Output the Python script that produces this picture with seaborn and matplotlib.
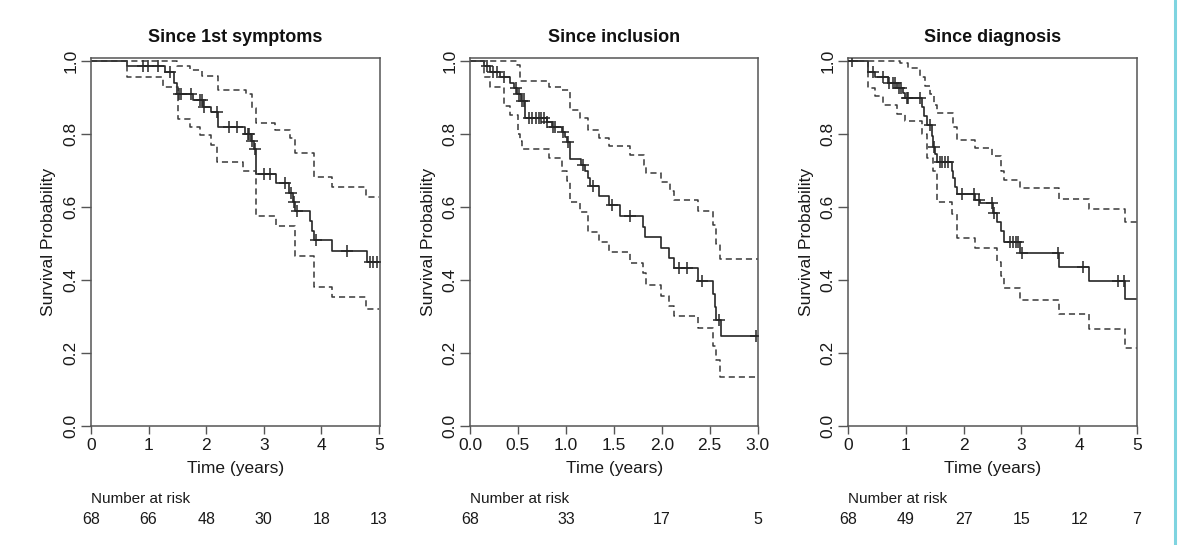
import numpy as np
import matplotlib
matplotlib.use("Agg")
import matplotlib.pyplot as plt
from matplotlib.lines import Line2D
from matplotlib.transforms import blended_transform_factory
import seaborn as sns

# ---- Kaplan-Meier estimates (step times and survival after each step) ----
titles = ["Since 1st symptoms", "Since inclusion", "Since diagnosis"]
x_max = [5, 3, 5]
x_ticks = [[0, 1, 2, 3, 4, 5],
           [0.0, 0.5, 1.0, 1.5, 2.0, 2.5, 3.0],
           [0, 1, 2, 3, 4, 5]]
x_ticklabels = [["0", "1", "2", "3", "4", "5"],
                ["0.0", "0.5", "1.0", "1.5", "2.0", "2.5", "3.0"],
                ["0", "1", "2", "3", "4", "5"]]
y_ticks = [0.0, 0.2, 0.4, 0.6, 0.8, 1.0]
y_ticklabels = ["0.0", "0.2", "0.4", "0.6", "0.8", "1.0"]

# Since 1st symptoms
symp_t = [0, 0.62, 1.28, 1.44, 1.49, 1.77, 1.95, 2.09, 2.21, 2.67, 2.77, 2.83, 2.86,
          3.22, 3.44, 3.51, 3.54, 3.80, 3.84, 3.88, 4.19, 4.80]
symp_s = [1.0, 0.985, 0.970, 0.940, 0.910, 0.893, 0.875, 0.860, 0.820, 0.800, 0.780,
          0.760, 0.690, 0.667, 0.639, 0.615, 0.589, 0.562, 0.535, 0.510, 0.479, 0.450]
symp_up_t = [0, 1.49, 1.72, 1.92, 2.21, 2.69, 2.80, 2.86, 3.20, 3.45, 3.55, 3.88, 4.19, 4.78]
symp_up_s = [1.0, 0.985, 0.975, 0.960, 0.920, 0.910, 0.870, 0.829, 0.811, 0.790, 0.749,
             0.681, 0.656, 0.628]
symp_lo_t = [0, 0.62, 1.25, 1.51, 1.72, 1.89, 2.09, 2.19, 2.64, 2.87, 3.21, 3.55, 3.88,
             4.19, 4.78]
symp_lo_s = [1.0, 0.957, 0.930, 0.840, 0.820, 0.797, 0.770, 0.724, 0.700, 0.575, 0.547,
             0.466, 0.382, 0.353, 0.321]
symp_cens = [0.91, 0.99, 1.16, 1.37, 1.52, 1.57, 1.73, 1.89, 1.93, 1.97, 2.19, 2.40, 2.54,
             2.72, 2.75, 2.80, 2.84, 3.00, 3.10, 3.36, 3.48, 3.52, 3.57, 3.91, 4.45, 4.84,
             4.90, 4.96]

# Since inclusion
incl_t = [0, 0.146, 0.21, 0.31, 0.42, 0.46, 0.49, 0.53, 0.57, 0.80, 0.85, 0.96, 0.99,
          1.01, 1.04, 1.16, 1.20, 1.23, 1.25, 1.34, 1.45, 1.56, 1.80, 1.83, 1.99, 2.08,
          2.13, 2.38, 2.53, 2.55, 2.57, 2.62]
incl_s = [1.0, 0.985, 0.970, 0.955, 0.940, 0.925, 0.910, 0.890, 0.845, 0.832, 0.820,
          0.805, 0.792, 0.779, 0.731, 0.715, 0.698, 0.680, 0.658, 0.630, 0.605, 0.575,
          0.546, 0.517, 0.489, 0.459, 0.432, 0.397, 0.362, 0.327, 0.290, 0.247]
incl_up_t = [0, 0.49, 0.52, 0.82, 0.96, 1.04, 1.15, 1.23, 1.34, 1.45, 1.67, 1.81, 1.84,
             1.99, 2.09, 2.13, 2.38, 2.53, 2.57, 2.61]
incl_up_s = [1.0, 0.990, 0.945, 0.930, 0.920, 0.866, 0.845, 0.811, 0.788, 0.767, 0.742,
             0.715, 0.694, 0.669, 0.645, 0.619, 0.589, 0.550, 0.500, 0.458]
incl_lo_t = [0, 0.146, 0.21, 0.35, 0.42, 0.50, 0.52, 0.54, 0.82, 0.96, 1.01, 1.04, 1.15,
             1.23, 1.34, 1.45, 1.67, 1.80, 1.84, 1.99, 2.08, 2.13, 2.38, 2.53, 2.57, 2.61]
incl_lo_s = [1.0, 0.955, 0.930, 0.877, 0.852, 0.800, 0.780, 0.758, 0.733, 0.700, 0.670,
             0.615, 0.587, 0.532, 0.505, 0.476, 0.447, 0.420, 0.386, 0.357, 0.329, 0.301,
             0.269, 0.220, 0.180, 0.133]
incl_cens = [0.18, 0.24, 0.28, 0.35, 0.48, 0.51, 0.54, 0.56, 0.62, 0.65, 0.69, 0.72, 0.74,
             0.77, 0.80, 0.87, 0.89, 0.97, 1.02, 1.18, 1.28, 1.48, 1.67, 2.18, 2.26, 2.42,
             2.60, 2.98]

# Since diagnosis
diag_t = [0, 0.35, 0.46, 0.69, 0.84, 0.95, 0.98, 1.27, 1.31, 1.36, 1.45, 1.47, 1.51,
          1.53, 1.79, 1.82, 1.85, 1.88, 2.20, 2.28, 2.50, 2.57, 2.64, 2.69, 2.97, 3.66,
          4.18, 4.80]
diag_s = [1.0, 0.970, 0.955, 0.939, 0.925, 0.912, 0.900, 0.875, 0.850, 0.825, 0.795,
          0.765, 0.745, 0.724, 0.700, 0.680, 0.655, 0.636, 0.619, 0.610, 0.584, 0.560,
          0.535, 0.505, 0.475, 0.435, 0.397, 0.347]
diag_up_t = [0, 0.90, 1.04, 1.24, 1.33, 1.42, 1.49, 1.53, 1.82, 1.88, 2.20, 2.49, 2.64,
             2.69, 2.97, 3.66, 4.18, 4.80]
diag_up_s = [1.0, 0.994, 0.980, 0.955, 0.932, 0.910, 0.879, 0.857, 0.820, 0.784, 0.763,
             0.740, 0.700, 0.674, 0.651, 0.622, 0.594, 0.560]
diag_lo_t = [0, 0.35, 0.46, 0.61, 0.84, 0.98, 1.27, 1.36, 1.47, 1.53, 1.79, 1.88, 2.20,
             2.57, 2.64, 2.69, 2.97, 3.66, 4.18, 4.80]
diag_lo_s = [1.0, 0.927, 0.904, 0.879, 0.854, 0.836, 0.800, 0.733, 0.700, 0.615, 0.580,
             0.514, 0.489, 0.450, 0.410, 0.377, 0.345, 0.306, 0.266, 0.213]
diag_cens = [0.07, 0.43, 0.61, 0.71, 0.78, 0.81, 0.88, 0.91, 1.01, 1.04, 1.24, 1.42, 1.49,
             1.59, 1.63, 1.68, 1.72, 1.97, 2.18, 2.27, 2.49, 2.52, 2.80, 2.85, 2.90, 2.94,
             3.01, 3.64, 4.06, 4.68, 4.77]

# Number at risk tables
risk_times = [[0, 1, 2, 3, 4, 5], [0, 1, 2, 3], [0, 1, 2, 3, 4, 5]]
risk_counts = [[68, 66, 48, 30, 18, 13], [68, 33, 17, 5], [68, 49, 27, 15, 12, 7]]

curves = [
    (symp_t, symp_s, symp_up_t, symp_up_s, symp_lo_t, symp_lo_s, symp_cens),
    (incl_t, incl_s, incl_up_t, incl_up_s, incl_lo_t, incl_lo_s, incl_cens),
    (diag_t, diag_s, diag_up_t, diag_up_s, diag_lo_t, diag_lo_s, diag_cens),
]

# ---- style ----
sns.set_style("ticks")
plt.rcParams["font.family"] = ["Liberation Sans", "DejaVu Sans"]
LINE = "#262626"
CI = "#383838"
FRAME = "#555555"
TEXT = "#1a1a1a"

W, H = 1178, 545
fig = plt.figure(figsize=(W / 100, H / 100), dpi=100)
fig.patch.set_facecolor("white")

# axes boxes in pixels: (left, right) and pixels per time unit
ax_px = [(91, 380), (470, 758.3), (848.3, 1137.3)]
px_per_unit = [57.6, 95.9, 57.7]
top_px, bot_px = 58, 426
ax_h = bot_px - top_px


def extend(t, s, end):
    return list(t) + [end], list(s) + [s[-1]]


for i, (ax_l, ax_r) in enumerate(ax_px):
    ax = fig.add_axes([ax_l / W, 1 - bot_px / H, (ax_r - ax_l) / W, ax_h / H])
    t, s, ut, us, lt, ls, cens = curves[i]
    end = x_max[i]
    span_px = ax_r - ax_l
    ax.set_xlim(0, span_px / px_per_unit[i])
    ax.set_ylim(0, ax_h / 365.0)

    xs, ys = extend(t, s, end)
    sns.lineplot(x=xs, y=ys, drawstyle="steps-post", estimator=None, sort=False,
                 color=LINE, lw=1.2, ax=ax)
    for bt, bs in ((ut, us), (lt, ls)):
        bx, by = extend(bt, bs, end)
        sns.lineplot(x=bx, y=by, drawstyle="steps-post", estimator=None, sort=False,
                     color=CI, lw=1.1, linestyle=(0, (4, 2.6)), ax=ax)

    # censoring marks sit on the survival step at each censor time
    t_arr = np.asarray(t)
    s_arr = np.asarray(s)
    idx = np.searchsorted(t_arr, np.asarray(cens), side="right") - 1
    sns.scatterplot(x=cens, y=s_arr[idx], marker="+", s=80, color=LINE,
                    linewidth=1.1, ax=ax, zorder=3)

    for sp in ax.spines.values():
        sp.set_color(FRAME)
        sp.set_linewidth(1.1)

    ax.set_xticks(x_ticks[i])
    ax.set_xticklabels(x_ticklabels[i], fontsize=12.5, color=TEXT)
    ax.set_yticks(y_ticks)
    ax.set_yticklabels(y_ticklabels, fontsize=12.5, rotation=90, va="center", color=TEXT)
    ax.tick_params(axis="x", length=6, width=1.0, color=FRAME, pad=2.5)
    ax.tick_params(axis="y", length=7.5, width=1.0, color=FRAME, pad=1.5)

    ax.set_xlabel("Time (years)", fontsize=12.5, va="center", color=TEXT)
    ax.xaxis.set_label_coords(0.5, -(468 - bot_px) / ax_h)
    ax.set_ylabel("Survival Probability", fontsize=12.5, va="center", color=TEXT)
    ax.yaxis.set_label_coords(-42 / span_px, 0.5)

    ax.text(0.5, 1 + (top_px - 37) / ax_h, titles[i], transform=ax.transAxes,
            ha="center", va="center", fontsize=13, fontweight="bold", color="#111111")

    tr = blended_transform_factory(ax.transData, ax.transAxes)
    ax.text(0, -(499 - bot_px) / ax_h, "Number at risk", transform=tr,
            ha="left", va="center", fontsize=11, color=TEXT)
    for rt, rc in zip(risk_times[i], risk_counts[i]):
        ax.text(rt, -(519 - bot_px) / ax_h, str(rc), transform=tr,
                ha="center", va="center", fontsize=11.5, color=TEXT)

# thin cyan frame line on the right edge of the figure
fig.add_artist(Line2D([1175 / W, 1175 / W], [0, 1], color="#7fd4e0", lw=2.2,
                      transform=fig.transFigure))

fig.savefig("out.png", dpi=100)
